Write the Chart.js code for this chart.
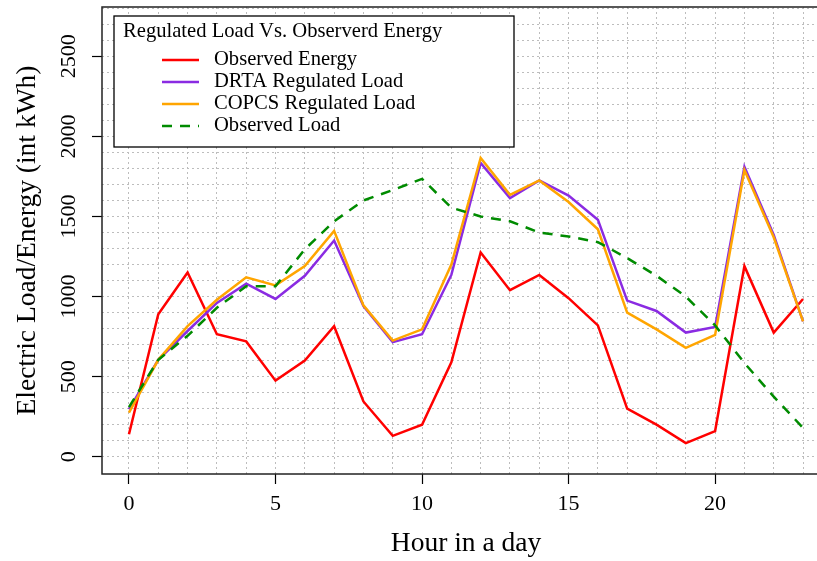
<!DOCTYPE html>
<html>
<head>
<meta charset="utf-8">
<script src="https://cdn.jsdelivr.net/npm/chart.js@4.4.0/dist/chart.umd.min.js"></script>
<style>
html, body { margin: 0; padding: 0; background: #fff; overflow: hidden; }
#wrap { width: 840px; height: 561px; }
</style>
</head>
<body>
<div id="wrap"><canvas id="graficaCarga" width="840" height="561"></canvas></div>
<script>
var horas = [0, 1, 2, 3, 4, 5, 6, 7, 8, 9, 10, 11, 12, 13, 14, 15, 16, 17, 18, 19, 20, 21, 22, 23];

var energiaObservada = [140, 890, 1150, 765, 720, 475, 600, 815, 345, 130, 200, 590,
    1275, 1040, 1135, 990, 820, 300, 200, 85, 160, 1190, 775, 985];
var cargaDRTA = [295, 605, 785, 960, 1080, 985, 1130, 1350, 940, 715, 765, 1135,
    1835, 1615, 1725, 1630, 1480, 975, 910, 775, 810, 1810, 1385, 845];
var cargaCOPCS = [275, 605, 815, 980, 1120, 1070, 1190, 1410, 945, 725, 795, 1200,
    1865, 1635, 1725, 1590, 1420, 900, 795, 680, 760, 1790, 1370, 845];
var cargaObservada = [310, 605, 755, 930, 1065, 1065, 1295, 1470, 1600, 1665, 1735, 1555,
    1500, 1470, 1400, 1375, 1340, 1240, 1130, 1000, 820, 585, 375, 180];

var ticksY = [];
for (var v = 0; v <= 2800; v += 100) ticksY.push(v);

var tituloLeyenda = "Regulated Load Vs. Observerd Energy";
var fuente = "'Liberation Serif', 'DejaVu Serif', serif";

function puntos(serie) {
    return horas.map(function (h, i) { return { x: h, y: serie[i] }; });
}

Chart.defaults.font.family = fuente;
Chart.defaults.color = "#000";

var caja = {
    id: "caja",
    afterDraw: function (chart) {
        var ctx = chart.ctx;
        var a = chart.chartArea;
        ctx.save();
        ctx.strokeStyle = "#222";
        ctx.lineWidth = 1.5;
        ctx.strokeRect(a.left, a.top, a.right - a.left, a.bottom - a.top);

        // leyenda dentro del area, arriba a la izquierda
        var x0 = a.left + 12, y0 = a.top + 9;
        ctx.fillStyle = "#fff";
        ctx.fillRect(x0, y0, 400, 131);
        ctx.strokeStyle = "#000";
        ctx.lineWidth = 1.3;
        ctx.strokeRect(x0, y0, 400, 131);

        ctx.fillStyle = "#000";
        ctx.font = "20.6px " + fuente;
        ctx.textBaseline = "middle";
        ctx.textAlign = "left";
        ctx.fillText(tituloLeyenda, x0 + 9, y0 + 16);

        chart.data.datasets.forEach(function (ds, i) {
            var y = y0 + 44 + i * 22;
            ctx.beginPath();
            ctx.strokeStyle = ds.borderColor;
            ctx.lineWidth = ds.borderWidth;
            ctx.setLineDash(ds.borderDash || []);
            ctx.moveTo(x0 + 48, y);
            ctx.lineTo(x0 + 85, y);
            ctx.stroke();
            ctx.setLineDash([]);
            ctx.fillText(ds.label, x0 + 100, y);
        });
        ctx.restore();
    }
};

function sinRelleno(scale) {
    scale.paddingTop = 0;
    scale.paddingBottom = 0;
    scale.paddingLeft = 0;
    scale.paddingRight = 0;
}

new Chart(document.getElementById("graficaCarga"), {
    type: "line",
    data: {
        datasets: [
            {
                label: "Observed Energy",
                data: puntos(energiaObservada),
                borderColor: "#FF0000",
                borderWidth: 2.5,
                order: 4
            },
            {
                label: "DRTA Regulated Load",
                data: puntos(cargaDRTA),
                borderColor: "#8A2BE2",
                borderWidth: 2.5,
                order: 3
            },
            {
                label: "COPCS Regulated Load",
                data: puntos(cargaCOPCS),
                borderColor: "#FFA500",
                borderWidth: 2.5,
                order: 2
            },
            {
                label: "Observed Load",
                data: puntos(cargaObservada),
                borderColor: "#008B00",
                borderWidth: 2.5,
                borderDash: [10, 8],
                order: 1
            }
        ]
    },
    options: {
        responsive: false,
        animation: false,
        layout: { padding: { top: 7, right: 10, left: 0, bottom: 0 } },
        elements: {
            point: { radius: 0 },
            line: { tension: 0, fill: false, borderCapStyle: "butt" }
        },
        plugins: {
            legend: { display: false },
            tooltip: { enabled: false }
        },
        scales: {
            x: {
                type: "linear",
                min: -0.92,
                max: 23.92,
                afterBuildTicks: function (scale) {
                    scale.ticks = horas.map(function (h) { return { value: h }; });
                },
                afterFit: function (scale) {
                    scale.height = 87;
                    sinRelleno(scale);
                },
                border: { display: false, dash: [2, 3] },
                grid: {
                    color: "#bdbdbd",
                    lineWidth: 1,
                    tickLength: 10,
                    tickWidth: 1.2,
                    tickBorderDash: [],
                    tickColor: function (c) {
                        return c.tick && c.tick.value % 5 === 0 ? "#000" : "rgba(0,0,0,0)";
                    }
                },
                ticks: {
                    autoSkip: false,
                    maxRotation: 0,
                    padding: 7,
                    font: { size: 22 },
                    callback: function (v) { return v % 5 === 0 ? v : ""; }
                },
                title: {
                    display: true,
                    text: "Hour in a day",
                    font: { size: 27.5 },
                    padding: { top: 0, bottom: 0.5 }
                }
            },
            y: {
                type: "linear",
                min: -108,
                max: 2808,
                afterBuildTicks: function (scale) {
                    scale.ticks = ticksY.map(function (t) { return { value: t }; });
                },
                afterFit: function (scale) {
                    scale.width = 102;
                    sinRelleno(scale);
                },
                border: { display: false, dash: [2, 3] },
                grid: {
                    color: "#bdbdbd",
                    lineWidth: 1,
                    tickLength: 10,
                    tickWidth: 1.2,
                    tickBorderDash: [],
                    tickColor: function (c) {
                        return c.tick && c.tick.value % 500 === 0 && c.tick.value <= 2500 ? "#000" : "rgba(0,0,0,0)";
                    }
                },
                ticks: {
                    autoSkip: false,
                    minRotation: 90,
                    maxRotation: 90,
                    crossAlign: "center",
                    padding: 1,
                    font: { size: 22 },
                    callback: function (v) { return v % 500 === 0 && v <= 2500 ? v : ""; }
                },
                title: {
                    display: true,
                    text: "Electric Load/Energy (int kWh)",
                    font: { size: 27.5 },
                    padding: { top: 11.5, bottom: 0 }
                }
            }
        }
    },
    plugins: [caja]
});
</script>
</body>
</html>
